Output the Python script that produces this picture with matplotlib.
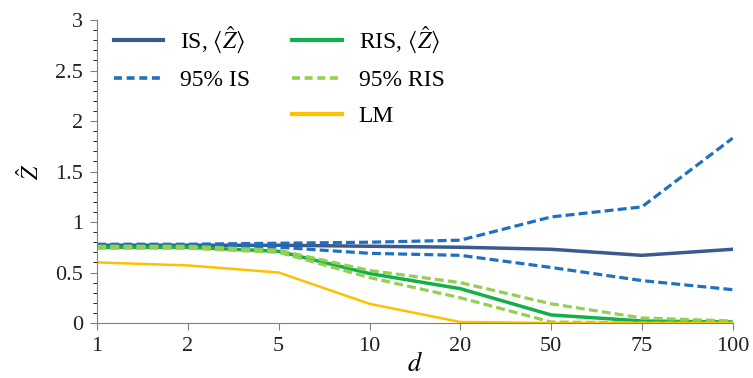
import numpy as np
import matplotlib
matplotlib.use('Agg')
import matplotlib.pyplot as plt
from matplotlib.lines import Line2D
from matplotlib.ticker import MultipleLocator

# sample sizes d (categorical axis) and estimator summaries
d_labels = ["1", "2", "5", "10", "20", "50", "75", "100"]
is_mean = [0.77, 0.77, 0.77, 0.76, 0.75, 0.73, 0.67, 0.73]
is_hi   = [0.78, 0.78, 0.79, 0.80, 0.82, 1.05, 1.15, 1.83]
is_lo   = [0.76, 0.76, 0.75, 0.69, 0.67, 0.55, 0.42, 0.33]
ris_mean = [0.75, 0.75, 0.71, 0.49, 0.34, 0.08, 0.02, 0.01]
ris_hi   = [0.76, 0.76, 0.72, 0.52, 0.40, 0.19, 0.05, 0.02]
ris_lo   = [0.74, 0.74, 0.70, 0.45, 0.25, 0.01, 0.00, 0.00]
lm       = [0.60, 0.57, 0.50, 0.19, 0.01, 0.00, 0.00, 0.00]
y_ticks = [0, 0.5, 1, 1.5, 2, 2.5, 3]
y_ticklabels = ["0", "0.5", "1", "1.5", "2", "2.5", "3"]

C_IS, C_IS95 = "#3b5a8f", "#1f70c0"
C_RIS, C_RIS95 = "#12b04a", "#92d050"
C_LM = "#ffc000"
DASH = (0, (2.8, 1.3))

plt.rcParams.update({
    "font.family": ["Liberation Serif", "DejaVu Serif"],
    "mathtext.fontset": "stix",
    "font.size": 15,
})

x = np.arange(len(d_labels))
fig = plt.figure(figsize=(7.53, 3.78), dpi=100)
ax = fig.add_axes([0.129, 0.1455, 0.844, 0.8015])

ax.plot(x, is_mean, color=C_IS, lw=2.5)
ax.plot(x, is_hi, color=C_IS95, lw=2.3, ls=DASH)
ax.plot(x, is_lo, color=C_IS95, lw=2.3, ls=DASH)
ax.plot(x, ris_mean, color=C_RIS, lw=2.5)
ax.plot(x, ris_hi, color=C_RIS95, lw=2.3, ls=DASH)
ax.plot(x, ris_lo, color=C_RIS95, lw=2.3, ls=DASH)
ax.plot(x, lm, color=C_LM, lw=1.8)

ax.set_xlim(0, len(d_labels) - 1)
ax.set_ylim(0, 3)
ax.set_xticks(x)
ax.set_xticklabels(d_labels)
ax.set_yticks(y_ticks)
ax.set_yticklabels(y_ticklabels)
ax.yaxis.set_minor_locator(MultipleLocator(0.1))
for s in ("top", "right"):
    ax.spines[s].set_visible(False)
for s in ("left", "bottom"):
    ax.spines[s].set_color("#808080")
ax.tick_params(axis="both", colors="#808080", labelcolor="#222222", labelsize=16)
ax.tick_params(axis="y", which="major", length=5, pad=5)
ax.tick_params(axis="y", which="minor", length=3)
ax.tick_params(axis="x", length=5, pad=5)

ax.set_xlabel("$d$", fontsize=19, labelpad=-3)
ax.set_ylabel(r"$\hat{Z}$", fontsize=17, labelpad=8)

handles = [
    Line2D([], [], color=C_IS, lw=3),
    Line2D([], [], color=C_IS95, lw=2.6, ls=(0, (2.2, 1.3))),
    Line2D([], [], color="none"),
    Line2D([], [], color=C_RIS, lw=3),
    Line2D([], [], color=C_RIS95, lw=2.6, ls=(0, (2.2, 1.3))),
    Line2D([], [], color=C_LM, lw=3),
]
labels = [r"IS, $\langle\hat{Z}\rangle$", "95% IS", "",
          r"RIS, $\langle\hat{Z}\rangle$", "95% RIS", "LM"]
ax.legend(handles, labels, ncol=2, frameon=False, fontsize=17,
          loc="upper left", bbox_to_anchor=(0.0, 1.04),
          handlelength=2.1, handletextpad=0.7, columnspacing=1.8,
          labelspacing=0.6, borderaxespad=0.3)

fig.savefig("out.png", dpi=100)
